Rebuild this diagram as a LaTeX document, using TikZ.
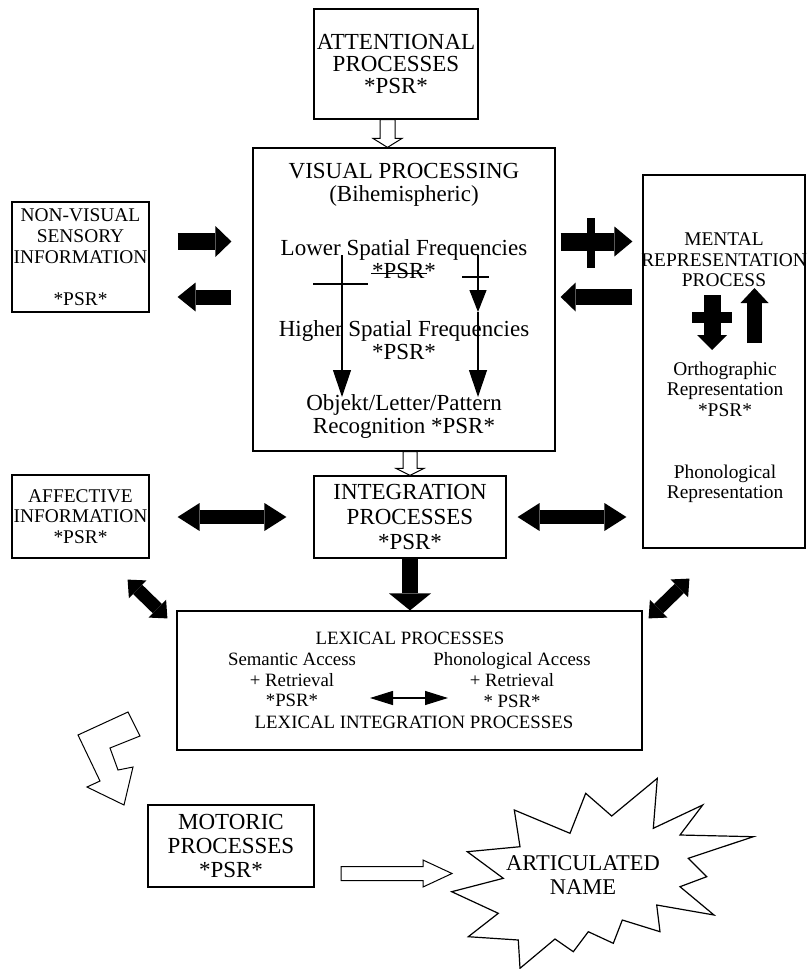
\documentclass[tikz,border=0pt]{standalone}
\usepackage{fontspec}
\setmainfont{Liberation Serif}
\usetikzlibrary{arrows.meta,calc}

\tikzset{
  box/.style={draw, line width=1.2pt, inner sep=0pt, align=center},
  txtL/.style={align=center, inner sep=0pt, font=\fontsize{23}{23}\selectfont},
  txtM/.style={align=center, inner sep=0pt, font=\fontsize{19.4}{20.5}\selectfont},
  txtS/.style={align=center, inner sep=0pt, font=\fontsize{18.8}{20.8}\selectfont},
  fat/.style n args={3}{line width=#1, arrows={-Triangle[length=#2,width=#3,line width=0pt]}},
  fatboth/.style n args={3}{line width=#1, arrows={Triangle[length=#2,width=#3,line width=0pt]-Triangle[length=#2,width=#3,line width=0pt]}},
  thinarr/.style={line width=1.2pt, arrows={-Triangle[length=27pt,width=18pt]}},
  thinboth/.style={line width=1.2pt, arrows={Triangle[length=23pt,width=14pt]-Triangle[length=23pt,width=14pt]}},
  hollow/.style={draw, line width=1pt, fill=white, line join=miter},
}

% hollow block arrow: from, to, half shaft, half head, head length
\newcommand{\hollowarrow}[5]{%
  \coordinate (hbase) at ($(#2)!#5!(#1)$);
  \draw[hollow] ($(#1)!#3!90:(#2)$) -- ($(hbase)!#3!-90:(#1)$)
    -- ($(hbase)!#4!-90:(#1)$) -- (#2) -- ($(hbase)!#4!90:(#1)$)
    -- ($(hbase)!#3!90:(#1)$) -- ($(#1)!#3!-90:(#2)$) -- cycle;}

\begin{document}
\begin{tikzpicture}[x=1pt,y=-1pt]
\useasboundingbox (0,0) rectangle (807,969);

% boxes
\node[box, txtL, font=\fontsize{23}{22}\selectfont, minimum width=164pt, minimum height=110pt] (att) at (396,64) {ATTENTIONAL\\PROCESSES\\*PSR*};
\node[box, minimum width=302pt, minimum height=303pt] (vis) at (404,299.5) {};
\node[box, txtM, font=\fontsize{19.4}{21}\selectfont, minimum width=137pt, minimum height=110pt] (nonvis) at (80.5,257) {NON-VISUAL\\SENSORY\\INFORMATION\\[21pt]*PSR*};
\node[box, txtM, minimum width=137pt, minimum height=83pt] (aff) at (80.5,516.5) {AFFECTIVE\\INFORMATION\\*PSR*};
\node[box, txtL, font=\fontsize{23}{25}\selectfont, minimum width=192pt, minimum height=82pt] (integ) at (410,517) {INTEGRATION\\PROCESSES\\*PSR*};
\node[box, minimum width=162pt, minimum height=373pt] (ment) at (724,361.5) {};
\node[box, minimum width=465pt, minimum height=139pt] (lex) at (409.5,680.5) {};
\node[box, txtL, font=\fontsize{23}{24}\selectfont, minimum width=166pt, minimum height=82pt] (motor) at (231,846) {MOTORIC\\PROCESSES\\*PSR*};

% texts inside the visual box
\node[txtL] (vtitle) at (404,185) {VISUAL PROCESSING\\(Bihemispheric)};
\node[txtL] (low) at (404,259) {Lower Spatial Frequencies\\*PSR*};
\node[txtL] (high) at (404,340) {Higher Spatial Frequencies\\*PSR*};
\node[txtL] (recog) at (404,416) {Objekt/Letter/Pattern\\Recognition *PSR*};

% texts inside the mental box
\node[txtM] (mtitle) at (724,260) {MENTAL\\REPRESENTATION\\PROCESS};
\node[txtM] (ortho) at (725,389) {Orthographic\\Representation\\*PSR*};
\node[txtM] (phono) at (725,484) {Phonological\\Representation};

% texts inside the lexical box
\node[txtS] (lextitle) at (410,638) {LEXICAL PROCESSES};
\node[txtS] (sem) at (292,680) {Semantic Access\\+ Retrieval\\*PSR*};
\node[txtS] (phon) at (512,680) {Phonological Access\\+ Retrieval\\* PSR*};
\node[txtS] (lexint) at (414,722) {LEXICAL INTEGRATION PROCESSES};

% rows and columns
\coordinate (rUp) at (0,241.5);
\coordinate (rDn) at (0,297);
\coordinate (cAtt) at (387.5,0);
\coordinate (cInt) at (410,0);

% hollow arrows
\coordinate (aA) at (att.south -| cAtt);
\coordinate (aB) at (vis.north -| cAtt);
\hollowarrow{aA}{aB}{7.5pt}{14.5pt}{9pt}
\coordinate (iA) at (vis.south -| cInt);
\coordinate (iB) at (integ.north -| cInt);
\hollowarrow{iA}{iB}{7pt}{14pt}{7pt}
\coordinate (mA) at (341,873.5);
\coordinate (mB) at (452,873.5);
\hollowarrow{mA}{mB}{7pt}{13.5pt}{29pt}

% black arrows
\draw[fat={17pt}{16pt}{31pt}, shorten <=28pt, shorten >=21pt] (nonvis.east |- rUp) -- (vis.west |- rUp);
\draw[fat={15pt}{18pt}{29pt}, shorten <=21pt, shorten >=28pt] (vis.west |- rDn) -- (nonvis.east |- rDn);
\draw[fat={18pt}{18pt}{30pt}, shorten <=5pt, shorten >=10pt] (vis.east |- rUp) -- (ment.west |- rUp);
\fill (587,218) rectangle (595,268);
\draw[fat={16pt}{15pt}{29pt}, shorten <=10pt, shorten >=5pt] (ment.west |- rDn) -- (vis.east |- rDn);
\draw[fatboth={14pt}{22pt}{28pt}, shorten <=28pt, shorten >=27pt] (aff.east |- integ.west) -- (integ.west);
\draw[fatboth={14pt}{22pt}{28pt}, shorten <=11pt, shorten >=16pt] (integ.east) -- (integ.east -| ment.west);
\draw[fat={16pt}{17pt}{42pt}] (integ.south) -- (integ.south |- lex.north);
\draw[fatboth={13pt}{14pt}{25pt}] ([shift={(-22,21)}]aff.south east) -- ([shift={(-9,8)}]lex.north west);
\draw[fatboth={13pt}{14pt}{25pt}] ([shift={(6,8)}]lex.north east) -- ([shift={(47,30)}]ment.south west);

% arrows inside the mental box
\coordinate (mdA) at (712,295);
\coordinate (mdB) at (712,350);
\draw[fat={17pt}{15pt}{30pt}] (mdA) -- (mdB);
\fill (692,312) rectangle (732,323);
\coordinate (muA) at (754.5,343);
\coordinate (muB) at (754.5,288);
\draw[fat={15pt}{15pt}{28pt}] (muA) -- (muB);

% arrows inside the visual box
\coordinate (vlA) at (342,255);
\coordinate (vlB) at (342,397);
\coordinate (vrA) at (478,255);
\coordinate (vrM) at (478,312);
\coordinate (vrB) at (478,397);
\draw[thinarr] (vlA) -- (vlB);
\draw[line width=1.2pt] (313,284) -- (368,284);
\draw[line width=1pt] (371,273) -- (427,273);
\draw[thinarr, arrows={-Triangle[length=22pt,width=17pt]}] (vrA) -- (vrM);
\draw[thinarr] (vrM) -- (vrB);
\draw[line width=1.2pt] (462,277) -- (489,277);

% arrow inside the lexical box
\coordinate (lxA) at (370,698);
\coordinate (lxB) at (448,698);
\draw[thinboth] (lxA) -- (lxB);

% zigzag arrow to the motoric box
\draw[hollow] (78,735) -- (128,712) -- (140,736) -- (110,748) -- (118,770)
  -- (133,767) -- (124,805) -- (87,787) -- (100,781) -- cycle;

% star
\draw[line width=1.2pt, line join=miter] (467.3,851.7) -- (520,846.7) -- (514.3,810) -- (570,833.3)
  -- (585.7,793.3) -- (611.7,816) -- (657.3,778.3) -- (653.3,828.3) -- (702.7,805)
  -- (680,835) -- (753.3,836.7) -- (688.3,858.3) -- (706.7,876.7) -- (680,886.7)
  -- (714,915) -- (656.7,905) -- (660,931.7) -- (622.3,920) -- (613.3,943.3)
  -- (588.3,931.7) -- (573.3,951.7) -- (555,939) -- (520,968.3) -- (518.3,940)
  -- (468.3,936.7) -- (498.3,913.3) -- (451.7,891.7) -- (503.3,878.3) -- cycle;
\node[txtL, font=\fontsize{22.5}{24}\selectfont] (artname) at (583,875) {ARTICULATED\\NAME};
\end{tikzpicture}
\end{document}
